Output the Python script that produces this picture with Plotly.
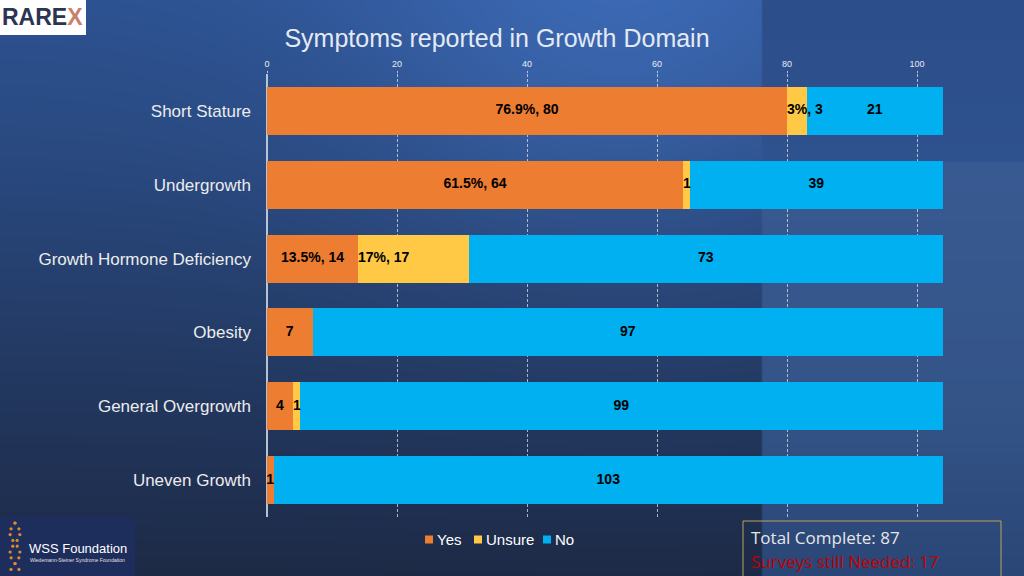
import base64
import math
import struct
import zlib

import plotly.graph_objects as go

# ---------------- data ----------------
categories = ["Short Stature", "Undergrowth", "Growth Hormone Deficiency",
              "Obesity", "General Overgrowth", "Uneven Growth"]
yes_vals = [80, 64, 14, 7, 4, 1]
unsure_vals = [3, 1, 17, 0, 1, 0]
no_vals = [21, 39, 73, 97, 99, 103]
yes_labels = ["76.9%, 80", "61.5%, 64", "13.5%, 14", "7", "4", "1"]
unsure_labels = ["3%, 3", "1", "17%, 17", "", "1", ""]
no_labels = ["21", "39", "73", "97", "99", "103"]
series_names = ["Yes", "Unsure", "No"]
series_colors = ["#ED7D31", "#FFC845", "#00B0F0"]
x_ticks = [0, 20, 40, 60, 80, 100]

# ---------------- geometry ----------------
W, H = 1024, 576
PL, PR, PT, PB = 267, 943, 74, 517  # plot area in pixels


def px(x):
    return (x - PL) / (PR - PL)


def py(y):
    return (PB - y) / (PB - PT)


# ---------------- background image (gradient) ----------------
def lerp_stops(stops, v):
    if v <= stops[0][0]:
        return stops[0][1]
    for (a, ca), (b, cb) in zip(stops, stops[1:]):
        if v <= b:
            t = (v - a) / (b - a)
            return tuple(ca[i] + (cb[i] - ca[i]) * t for i in range(3))
    return stops[-1][1]


left_stops = [(0, (45, 82, 145)), (150, (41, 73, 128)), (350, (35, 58, 100)), (576, (29, 42, 70))]
right_top = [(0, (44, 78, 138)), (163, (46, 82, 142))]
right_low = [(163, (56, 90, 146)), (400, (52, 84, 136)), (576, (42, 70, 118))]


def colour(x, y):
    if x < 762:
        c = lerp_stops(left_stops, y)
        d2 = (x - 620) ** 2 + (y - 20) ** 2
        g = math.exp(-d2 / (2 * 190.0 ** 2))
        c = (c[0] + 14 * g, c[1] + 22 * g, c[2] + 34 * g)
    else:
        if y < 163:
            c = lerp_stops(right_top, y)
        else:
            c = lerp_stops(right_low, y)
    return tuple(max(0, min(255, int(round(v)))) for v in c)


IW, IH = 512, 288
rows = []
for j in range(IH):
    row = bytearray()
    yy = (j + 0.5) * H / IH
    for i in range(IW):
        xx = (i + 0.5) * W / IW
        row.extend(colour(xx, yy))
    rows.append(b"\x00" + bytes(row))


def chunk(tag, data):
    c = struct.pack(">I", len(data)) + tag + data
    return c + struct.pack(">I", zlib.crc32(tag + data) & 0xFFFFFFFF)


png = b"\x89PNG\r\n\x1a\n"
png += chunk(b"IHDR", struct.pack(">IIBBBBB", IW, IH, 8, 2, 0, 0, 0))
png += chunk(b"IDAT", zlib.compress(b"".join(rows), 9))
png += chunk(b"IEND", b"")
bg_uri = "data:image/png;base64," + base64.b64encode(png).decode()

# ---------------- figure ----------------
FONT = "Liberation Sans, Arial, sans-serif"
LABEL_FONT = dict(family=FONT, size=14, color="#000000", weight="bold")
fig = go.Figure()

for name, vals, col in zip(series_names, [yes_vals, unsure_vals, no_vals], series_colors):
    fig.add_trace(go.Bar(name=name, orientation="h", y=categories, x=vals,
                         marker=dict(color=col, line_width=0), hoverinfo="skip",
                         showlegend=False))

# data labels drawn on top of all bars
yes_mid = [v / 2 for v in yes_vals]
unsure_start = [v for v in yes_vals]
no_mid = [a + b + c / 2 for a, b, c in zip(yes_vals, unsure_vals, no_vals)]
fig.add_trace(go.Scatter(x=yes_mid, y=categories, mode="text", text=yes_labels,
                         textposition="middle center", textfont=LABEL_FONT,
                         hoverinfo="skip", showlegend=False, cliponaxis=False))
fig.add_trace(go.Scatter(x=unsure_start, y=categories, mode="text", text=unsure_labels,
                         textposition="middle right", textfont=LABEL_FONT,
                         hoverinfo="skip", showlegend=False, cliponaxis=False))
fig.add_trace(go.Scatter(x=no_mid, y=categories, mode="text", text=no_labels,
                         textposition="middle center", textfont=LABEL_FONT,
                         hoverinfo="skip", showlegend=False, cliponaxis=False))

shapes = []
annotations = []

# legend (compact, PowerPoint style): square swatch + label
legend_x = [425, 474, 543]
for lx, name, col in zip(legend_x, series_names, series_colors):
    shapes.append(dict(type="rect", xref="paper", yref="paper", x0=px(lx), x1=px(lx + 8),
                       y0=py(543.5), y1=py(535.5), fillcolor=col, line_width=0, layer="above"))
    annotations.append(dict(xref="paper", yref="paper", x=px(lx + 10), y=py(539.5),
                            showarrow=False, xanchor="left", yanchor="middle", text=name,
                            font=dict(family=FONT, size=15, color="#ffffff")))

# top-left logo box
shapes.append(dict(type="rect", xref="paper", yref="paper", x0=px(0), x1=px(86),
                   y0=py(35), y1=py(0), fillcolor="#ffffff", line_width=0, layer="above"))
annotations.append(dict(xref="paper", yref="paper", x=px(43), y=py(17), showarrow=False,
                        xanchor="center", yanchor="middle",
                        text="<b>RARE<span style='color:#c8806a'>X</span></b>",
                        font=dict(family=FONT, size=23, color="#2b3452")))

# bottom-left logo box
shapes.append(dict(type="rect", xref="paper", yref="paper", x0=px(0), x1=px(135),
                   y0=py(576), y1=py(517), fillcolor="#1d2d5c", line_width=0, layer="above"))
annotations.append(dict(xref="paper", yref="paper", x=px(27), y=py(548), showarrow=False,
                        xanchor="left", yanchor="middle", text="WSS Foundation",
                        font=dict(family=FONT, size=13, color="#ffffff")))
annotations.append(dict(xref="paper", yref="paper", x=px(28), y=py(560), showarrow=False,
                        xanchor="left", yanchor="middle", text="Wiedemann-Steiner Syndrome Foundation",
                        font=dict(family=FONT, size=5, color="#e0e0e0")))
for k in range(9):
    yy = 523 + k * 5.8
    off = 5 * math.sin(k * 0.9)
    for sgn in (-1, 1):
        shapes.append(dict(type="circle", xref="paper", yref="paper",
                           x0=px(15 + sgn * off - 1.6), x1=px(15 + sgn * off + 1.6),
                           y0=py(yy + 1.6), y1=py(yy - 1.6),
                           fillcolor="#e0892f", line_width=0, layer="above"))

# bottom-right info box
shapes.append(dict(type="rect", xref="paper", yref="paper", x0=px(743), x1=px(1001),
                   y0=py(580), y1=py(521), fillcolor="rgba(0,0,0,0)",
                   line=dict(color="#b9a55a", width=1), layer="above"))
annotations.append(dict(xref="paper", yref="paper", x=px(749), y=py(537), showarrow=False,
                        xanchor="left", yanchor="middle", text="Total Complete: 87",
                        font=dict(family="Open Sans, sans-serif", size=17, color="#e6e6e6")))
annotations.append(dict(xref="paper", yref="paper", x=px(749), y=py(561), showarrow=False,
                        xanchor="left", yanchor="middle", text="Surveys still Needed: 17",
                        font=dict(family="Open Sans, sans-serif", size=17, color="#c00000")))

fig.update_layout(
    width=W, height=H,
    margin=dict(l=PL, r=W - PR, t=PT, b=H - PB, pad=0),
    barmode="stack", bargap=0.35,
    paper_bgcolor="#27406e", plot_bgcolor="rgba(0,0,0,0)",
    font=dict(family=FONT, color="#ffffff"),
    title=dict(text="Symptoms reported in Growth Domain", x=497 / W, xanchor="center",
               y=1 - 38 / H, yanchor="middle", yref="container",
               font=dict(family=FONT, size=25, color="#e4eaf4")),
    showlegend=False,
    xaxis=dict(side="top", range=[0, 104], tickvals=x_ticks, showgrid=True,
               gridcolor="rgba(230,235,245,0.7)", griddash="3px,2px", gridwidth=1,
               zeroline=True, zerolinecolor="rgba(200,208,222,0.9)", zerolinewidth=1.5,
               ticks="outside", ticklen=2, tickcolor="rgba(230,235,245,0.75)",
               tickfont=dict(family=FONT, size=9, color="#e6ecf5"), fixedrange=True),
    yaxis=dict(categoryorder="array", categoryarray=categories, autorange="reversed",
               showgrid=False, ticks="", ticklabelstandoff=15,
               tickfont=dict(family=FONT, size=17, color="#ececec"), fixedrange=True),
    images=[dict(source=bg_uri, xref="paper", yref="paper", x=px(0), y=py(0),
                 sizex=W / (PR - PL), sizey=H / (PB - PT), sizing="stretch",
                 xanchor="left", yanchor="top", layer="below")],
    shapes=shapes, annotations=annotations,
)

fig.write_html("out.html", config={"displayModeBar": False},
               post_script="document.body.style.margin='0';")
